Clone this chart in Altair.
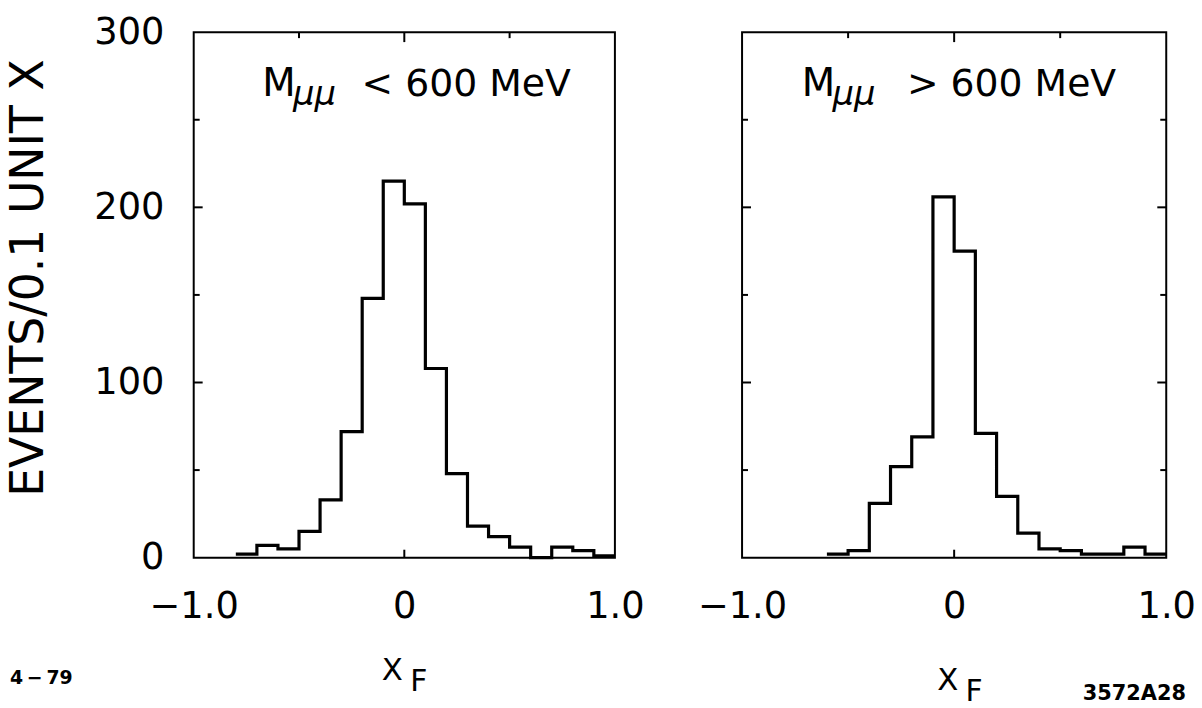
import altair as alt
import pandas as pd

# ---------------- data ----------------
# bin lower edges (width 0.1) and events per bin, M_mumu < 600 MeV
left_bin_start = [-0.8, -0.7, -0.6, -0.5, -0.4, -0.3, -0.2, -0.1, 0.0, 0.1,
                  0.2, 0.3, 0.4, 0.5, 0.6, 0.7, 0.8, 0.9]
left_counts = [2, 7, 5, 15, 33, 72, 148, 215, 202, 108,
               48, 18, 12, 6, 0, 6, 4, 1]

# M_mumu > 600 MeV
right_bin_start = [-0.6, -0.5, -0.4, -0.3, -0.2, -0.1, 0.0, 0.1, 0.2, 0.3,
                   0.4, 0.5, 0.6, 0.7, 0.8, 0.9]
right_counts = [2, 4, 31, 52, 69, 206, 175, 71, 35, 14,
                5, 4, 2, 2, 6, 2]

bin_width = 0.1
x_label_values = [-1.0, 0.0, 1.0]
y_label_values = [0, 100, 200, 300]
y_major_ticks = [100, 200]
y_minor_ticks = [50, 150, 250]
x_top_major = [0.0]
x_top_minor = [-0.5, 0.5]
x_bottom_ticks = [0.0]

left_title = ["M", "μμ", "< 600 MeV"]
right_title = ["M", "μμ", "> 600 MeV"]
y_title = "EVENTS/0.1 UNIT X"
x_title = ["X", "F"]
footer_left = "4\u2009−\u200979"
footer_right = "3572A28"

FONT = "DejaVu Sans"
W_L, W_R, H = 424, 427, 529


def step_frame(starts, counts):
    xs = list(starts) + [round(starts[-1] + bin_width, 1)]
    ys = list(counts) + [counts[-1]]
    return pd.DataFrame({"x": xs, "y": ys})


def text_layer(txt, x, y, size, italic=False, bold=False, align="left"):
    return alt.Chart(pd.DataFrame({"t": [txt]})).mark_text(
        font=FONT, fontSize=size, color="black", align=align, baseline="alphabetic",
        fontStyle="italic" if italic else "normal",
        fontWeight="bold" if bold else "normal",
    ).encode(x=alt.value(x), y=alt.value(y), text="t:N")


def panel(starts, counts, W, show_y, right_ticks, title_parts, title_pos, title_gap, xf_pos, footer):
    xs = alt.Scale(domain=[-1, 1], nice=False, zero=False)
    ys = alt.Scale(domain=[0, 300], nice=False)
    xaxis = alt.Axis(
        values=x_label_values,
        labelExpr="datum.value == 0 ? '0' : (datum.value < 0 ? '−' : '') + format(abs(datum.value), '.1f')",
        ticks=False, domain=False, grid=False, title=None,
        labelFont=FONT, labelFontSize=37, labelColor="black",
        labelPadding=31, labelFlush=False, labelOverlap=False,
    )
    if show_y:
        yaxis = alt.Axis(
            values=y_label_values, format="d", ticks=False, domain=False, grid=False,
            labelFont=FONT, labelFontSize=37, labelColor="black",
            labelPadding=30, labelFlush=False, labelOverlap=False,
            labelBaseline="middle",
            title=y_title, titleFont=FONT, titleFontSize=46, titleFontWeight="normal",
            titleColor="black", titleX=-166, titleY=247, titleBaseline="middle",
            titleAlign="center", titleAngle=-90,
        )
    else:
        yaxis = None

    hist = alt.Chart(step_frame(starts, counts)).mark_line(
        interpolate="step-after", color="black", strokeWidth=3.2
    ).encode(
        x=alt.X("x:Q", scale=xs, axis=xaxis),
        y=alt.Y("y:Q", scale=ys, axis=yaxis),
    )

    layers = [hist]

    def ytick(vals, x0, x1):
        return alt.Chart(pd.DataFrame({"y": vals})).mark_rule(color="black", strokeWidth=2).encode(
            y=alt.Y("y:Q", scale=ys, axis=yaxis), x=alt.value(x0), x2=alt.value(x1))

    def xtick(vals, y0, y1):
        return alt.Chart(pd.DataFrame({"x": vals})).mark_rule(color="black", strokeWidth=2).encode(
            x=alt.X("x:Q", scale=xs, axis=xaxis), y=alt.value(y0), y2=alt.value(y1))

    layers += [ytick(y_major_ticks, 0, 9), ytick(y_minor_ticks, 0, 6)]
    if right_ticks:
        layers += [ytick(y_major_ticks, W, W - 9), ytick(y_minor_ticks, W, W - 6)]
    layers += [xtick(x_top_major, 0, 10), xtick(x_top_minor, 0, 6), xtick(x_bottom_ticks, H, H - 8)]

    tx, ty = title_pos
    layers += [
        text_layer(title_parts[0], tx, ty, 39),
        text_layer(title_parts[1], tx + 31, ty + 9, 34, italic=True),
        text_layer(title_parts[2], tx + title_gap, ty, 38),
    ]
    (xx, xy) = xf_pos
    layers += [
        text_layer(x_title[0], xx, xy, 31, align="center"),
        text_layer(x_title[1], xx + 18, xy + 11, 30),
    ]
    layers += footer
    return alt.layer(*layers).properties(width=W, height=H)


left = panel(left_bin_start, left_counts, W_L, True, False, left_title, (69, 64), 100, (200, 652),
             [text_layer(footer_left, -185, 656, 19, bold=True)])
right = panel(right_bin_start, right_counts, W_R, False, True, right_title, (60, 64), 106, (207, 662),
              [text_layer(footer_right, 343, 672, 21, bold=True)])

chart = alt.hconcat(left, right, spacing=128, bounds="flush").properties(
    padding={"left": 4, "top": 10, "right": 5, "bottom": 5},
    background="white",
).configure_view(stroke="black", strokeWidth=2)

chart.save("out.html", embed_options={"renderer": "svg", "actions": False})
